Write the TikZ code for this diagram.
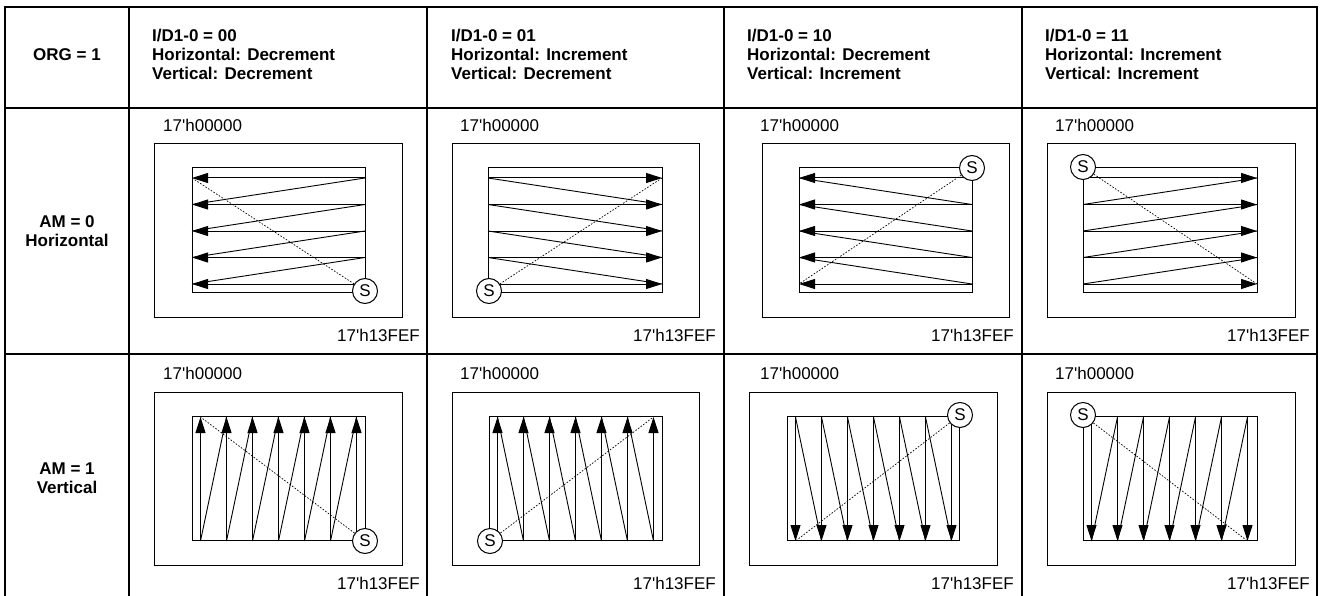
\documentclass[tikz,border=0pt]{standalone}
\usepackage{fontspec}
\setmainfont{Liberation Sans}[Ligatures=TeXOff]
\usetikzlibrary{arrows.meta}
\newcommand\hscan[4]{%
  \foreach \k in {0,...,4} {\draw[scan] (#1,178+26.5*\k) -- (#2,178+26.5*\k);}
  \foreach \k in {0,...,3} {\draw[ret] (#3,178+26.5*\k) -- (#4,204.5+26.5*\k);}
}
\newcommand\vscan[6]{%
  \foreach \k in {0,...,6} {\draw[scan] (#1+#2*\k,#3) -- (#1+#2*\k,#4);}
  \foreach \k in {0,...,5} {\draw[ret] (#1+#2*\k,#5) -- (#1+#2*\k+#2,#6);}
}
\newcommand\drawpanel[5]{%
  \draw[box] (#1,144+#5) rectangle (#2,317+#5);
  \draw[box] (#3,168+#5) rectangle (#4,292+#5);
}
\begin{document}
\begin{tikzpicture}[x=1pt,y=-1pt,
  every node/.style={inner sep=0pt,font=\fontsize{17}{19}\selectfont},
  hd/.style={font=\fontsize{17}{19}\selectfont\bfseries},
  tbl/.style={line width=1.3pt},
  box/.style={draw,line width=1pt},
  scan/.style={line width=1pt,-{Triangle[length=16pt,width=10pt]}},
  ret/.style={line width=0.9pt},
  dot/.style={line width=0.7pt,dash pattern=on 1.6pt off 1.6pt},
  snode/.style={circle,draw,fill=white,line width=1pt,minimum size=25pt,inner sep=0pt}]
\useasboundingbox (0,0) rectangle (1322,596);
\fill[white] (0,0) rectangle (1322,596);
% table
\draw[tbl] (5,602) -- (5,7) -- (1317,7) -- (1317,602);
\foreach \x in {129,427,724,1022} {\draw[tbl] (\x,7) -- (\x,602);}
\draw[tbl] (5,108) -- (1317,108);
\draw[tbl] (5,354) -- (1317,354);
% headers
\node[hd] (org) at (67,55) {ORG = 1};
\node[hd,anchor=west,align=left] (h1) at (152,54) {I/D1-0 = 00\\Horizontal: Decrement\\Vertical: Decrement};
\node[hd,anchor=west,align=left] (h2) at (451,54) {I/D1-0 = 01\\Horizontal: Increment\\Vertical: Decrement};
\node[hd,anchor=west,align=left] (h3) at (747,54) {I/D1-0 = 10\\Horizontal: Decrement\\Vertical: Increment};
\node[hd,anchor=west,align=left] (h4) at (1045,54) {I/D1-0 = 11\\Horizontal: Increment\\Vertical: Increment};
\node[hd,align=center] (am0) at (67,231) {AM = 0\\Horizontal};
\node[hd,align=center] (am1) at (67,478) {AM = 1\\Vertical};
% address labels
\foreach \r/\dy in {1/0,2/248} {
  \node[anchor=west] (a\r1) at (163,125+\dy) {17'h00000};
  \node[anchor=west] (a\r2) at (460,125+\dy) {17'h00000};
  \node[anchor=west] (a\r3) at (760,125+\dy) {17'h00000};
  \node[anchor=west] (a\r4) at (1055,125+\dy) {17'h00000};
  \node[anchor=east] (b\r1) at (420,335+\dy) {17'h13FEF};
  \node[anchor=east] (b\r2) at (716,335+\dy) {17'h13FEF};
  \node[anchor=east] (b\r3) at (1014,335+\dy) {17'h13FEF};
  \node[anchor=east] (b\r4) at (1310,335+\dy) {17'h13FEF};
}
% panels row 1
\drawpanel{154}{402}{192}{365}{0}
\drawpanel{452}{699}{488}{662}{0}
\drawpanel{762}{1009}{799}{972}{0}
\drawpanel{1047}{1295}{1083}{1257}{0}
% panels row 2
\drawpanel{154}{402}{192}{365}{248}
\drawpanel{452}{699}{489}{662}{248}
\drawpanel{749}{997}{787}{959}{248}
\drawpanel{1047}{1295}{1083}{1257}{248}
% horizontal scans
\hscan{365}{192}{365}{192}
\hscan{488}{662}{488}{662}
\hscan{972}{799}{799}{972}
\hscan{1083}{1257}{1257}{1083}
% vertical scans
\vscan{200.5}{26}{541}{417}{541}{417}
\vscan{497.5}{26}{541}{417}{417}{541}
\vscan{795.5}{26}{417}{541}{417}{541}
\vscan{1091.5}{26}{417}{541}{541}{417}
% start points
\node[snode] (s11) at (365,291) {S};
\node[snode] (s12) at (489,291) {S};
\node[snode] (s13) at (972,168) {S};
\node[snode] (s14) at (1083,167) {S};
\node[snode] (s21) at (365,541) {S};
\node[snode] (s22) at (490,541) {S};
\node[snode] (s23) at (960,415) {S};
\node[snode] (s24) at (1083,415) {S};
% end points
\coordinate (e11) at (192,178);
\coordinate (e12) at (662,178);
\coordinate (e13) at (799,284);
\coordinate (e14) at (1257,284);
\coordinate (e21) at (200.5,417);
\coordinate (e22) at (653.5,417);
\coordinate (e23) at (795.5,541);
\coordinate (e24) at (1247.5,541);
\foreach \i in {11,12,13,14,21,22,23,24} {\draw[dot] (s\i) -- (e\i);}
\end{tikzpicture}
\end{document}
